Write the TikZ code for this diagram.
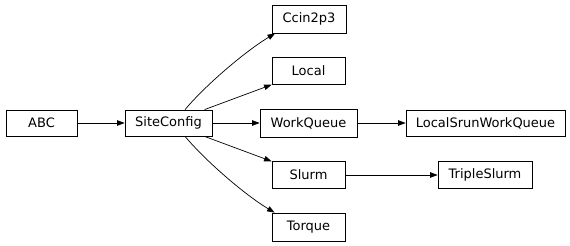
\documentclass[tikz,border=0pt]{standalone}
\usepackage{fontspec}
\setmainfont{DejaVu Sans}
\usetikzlibrary{arrows.meta}

\begin{document}
\begin{tikzpicture}[x=1pt,y=-1pt,font=\fontsize{13}{15}\selectfont,line width=0.7pt,
  >={Triangle[length=7.5pt,width=5.5pt]},
  cls/.style={draw,line width=0.8pt,minimum height=26pt,inner sep=0pt}]
  \useasboundingbox (0,0) rectangle (570,246);
  \node[cls,minimum width=71pt] (abc) at (41.5,123) {ABC};
  \node[cls,minimum width=87pt] (site) at (168.5,123) {SiteConfig};
  \node[cls,minimum width=74pt,minimum height=28pt] (ccin) at (309,19) {Ccin2p3};
  \node[cls,minimum width=73pt,minimum height=27pt] (local) at (308.5,71) {Local};
  \node[cls,minimum width=97pt,minimum height=28pt] (wq) at (308.5,123) {WorkQueue};
  \node[cls,minimum width=73pt,minimum height=27pt] (slurm) at (308.5,175) {Slurm};
  \node[cls,minimum width=73pt,minimum height=28pt] (torque) at (308.5,227) {Torque};
  \node[cls,minimum width=159pt] (lswq) at (485.5,123) {LocalSrunWorkQueue};
  \node[cls,minimum width=94pt,minimum height=27pt] (triple) at (485,175) {TripleSlurm};
  \draw[->] (abc) -- (site);
  \draw[->] (site.39) .. controls +(20,-24) and +(-30,18) .. (ccin.203);
  \draw[->] (site) -- (local);
  \draw[->] (site) -- (wq);
  \draw[->] (site) -- (slurm);
  \draw[->] (site.-39) .. controls +(20,24) and +(-30,-18) .. (torque.157);
  \draw[->] (wq) -- (lswq);
  \draw[->] (slurm) -- (triple);
\end{tikzpicture}
\end{document}
